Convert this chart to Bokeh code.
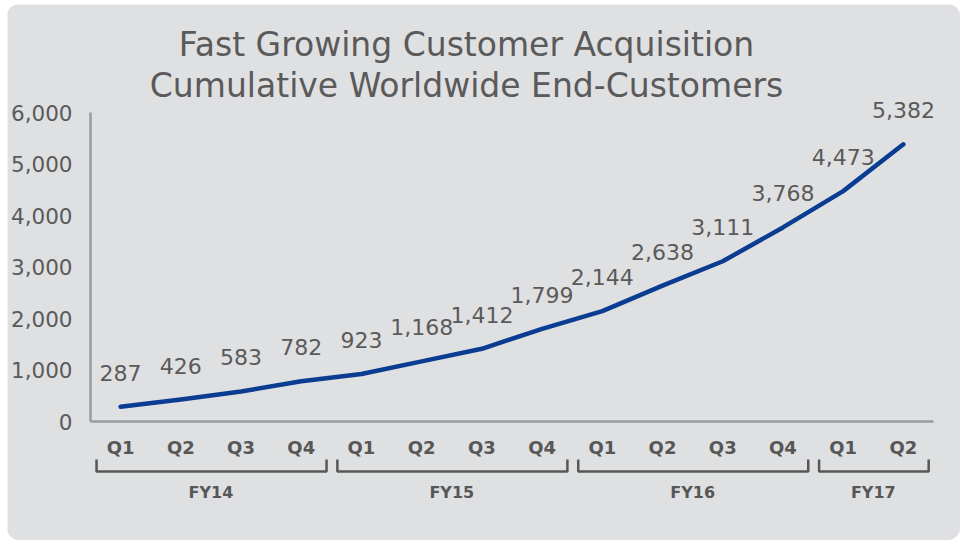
from bokeh.plotting import figure
from bokeh.models import Range1d, ColumnDataSource
from bokeh.core.properties import value
from bokeh.embed import file_html
from bokeh.resources import INLINE

# ---- data ----
title_lines = ["Fast Growing Customer Acquisition", "Cumulative Worldwide End-Customers"]
quarters = ["Q1", "Q2", "Q3", "Q4", "Q1", "Q2", "Q3", "Q4", "Q1", "Q2", "Q3", "Q4", "Q1", "Q2"]
fiscal_years = ["FY14", "FY15", "FY16", "FY17"]
fy_counts = [4, 4, 4, 2]
customers = [287, 426, 583, 782, 923, 1168, 1412, 1799, 2144, 2638, 3111, 3768, 4473, 5382]
y_ticks = [0, 1000, 2000, 3000, 4000, 5000, 6000]
y_tick_labels = ["0", "1,000", "2,000", "3,000", "4,000", "5,000", "6,000"]

# ---- layout (page pixels) ----
OX, OY = 7, 4               # figure offset on page
W, H = 960 - OX, 540 - OY
AX_L, AX_R = 90, 933        # plot area left/right (page px)
Y0, YTOP = 421, 112         # page px of 0 and of 6000
YMAX = 6000
n = len(quarters)
ppx = (AX_R - AX_L) / n     # px per category
s = (Y0 - YTOP) / YMAX      # px per unit

def ypx(py):
    return (Y0 - py) / s

def xpx(px):
    return (px - AX_L) / ppx

FONT = "DejaVu Sans"
TXT = "#5a5a5a"
DARK = "#575757"

p = figure(width=W, height=H, output_backend="svg", toolbar_location=None,
           x_range=Range1d(xpx(OX), xpx(OX + W)), y_range=Range1d(ypx(OY + H), ypx(OY)),
           min_border=0)
p.styles = {"border-radius": "12px", "overflow": "hidden",
            "margin-left": f"{OX}px", "margin-top": f"{OY}px"}
bg = "#dfe0e2"
p.background_fill_color = bg
p.border_fill_color = bg
p.outline_line_color = None
p.grid.grid_line_color = None
p.xaxis.visible = False
p.yaxis.visible = False

axis_col = "#9a9ba0"
p.segment(x0=[0, 0], y0=[0, 0], x1=[0, n], y1=[YMAX, 0], line_color=axis_col, line_width=2.5)

# y tick labels
p.text([0] * len(y_ticks), y_ticks, text=y_tick_labels, text_align="right", text_baseline="middle",
       x_offset=-18, text_font=value(FONT), text_font_size="21.5px", text_color=TXT)

xc = [i + 0.5 for i in range(n)]
src = ColumnDataSource(dict(x=xc, y=customers, lab=[f"{v:,}" for v in customers], q=quarters))
p.line("x", "y", source=src, line_color="#0a3d91", line_width=4.5, line_join="round", line_cap="round")

p.text("x", "y", text="lab", source=src, text_align="center", text_baseline="middle",
       y_offset=-34, text_font=value(FONT), text_font_size="22px", text_color=TXT)

p.text("x", 0, text="q", source=src, text_align="center", text_baseline="middle",
       y_offset=26, text_font=value(FONT), text_font_style="bold",
       text_font_size="18px", text_color=DARK)

bx, by, fx = [], [], []
start = 0
for c in fy_counts:
    a, b = start + 0.1, start + c - 0.08
    bx.append([a, a, b, b])
    by.append([ypx(459), ypx(471), ypx(471), ypx(459)])
    fx.append(start + c / 2)
    start += c
p.multi_line(bx, by, line_color=DARK, line_width=2.5)
p.text(fx, [0] * len(fx), text=fiscal_years, text_align="center", text_baseline="middle",
       y_offset=71, text_font=value(FONT), text_font_style="bold",
       text_font_size="16px", text_color=DARK)

tx = xpx(466)
p.text([tx, tx], [ypx(44), ypx(85)], text=title_lines, text_align="center", text_baseline="middle",
       text_font=value(FONT), text_font_size="33px", text_color=TXT)

open("out.html", "w").write(file_html(p, INLINE))
